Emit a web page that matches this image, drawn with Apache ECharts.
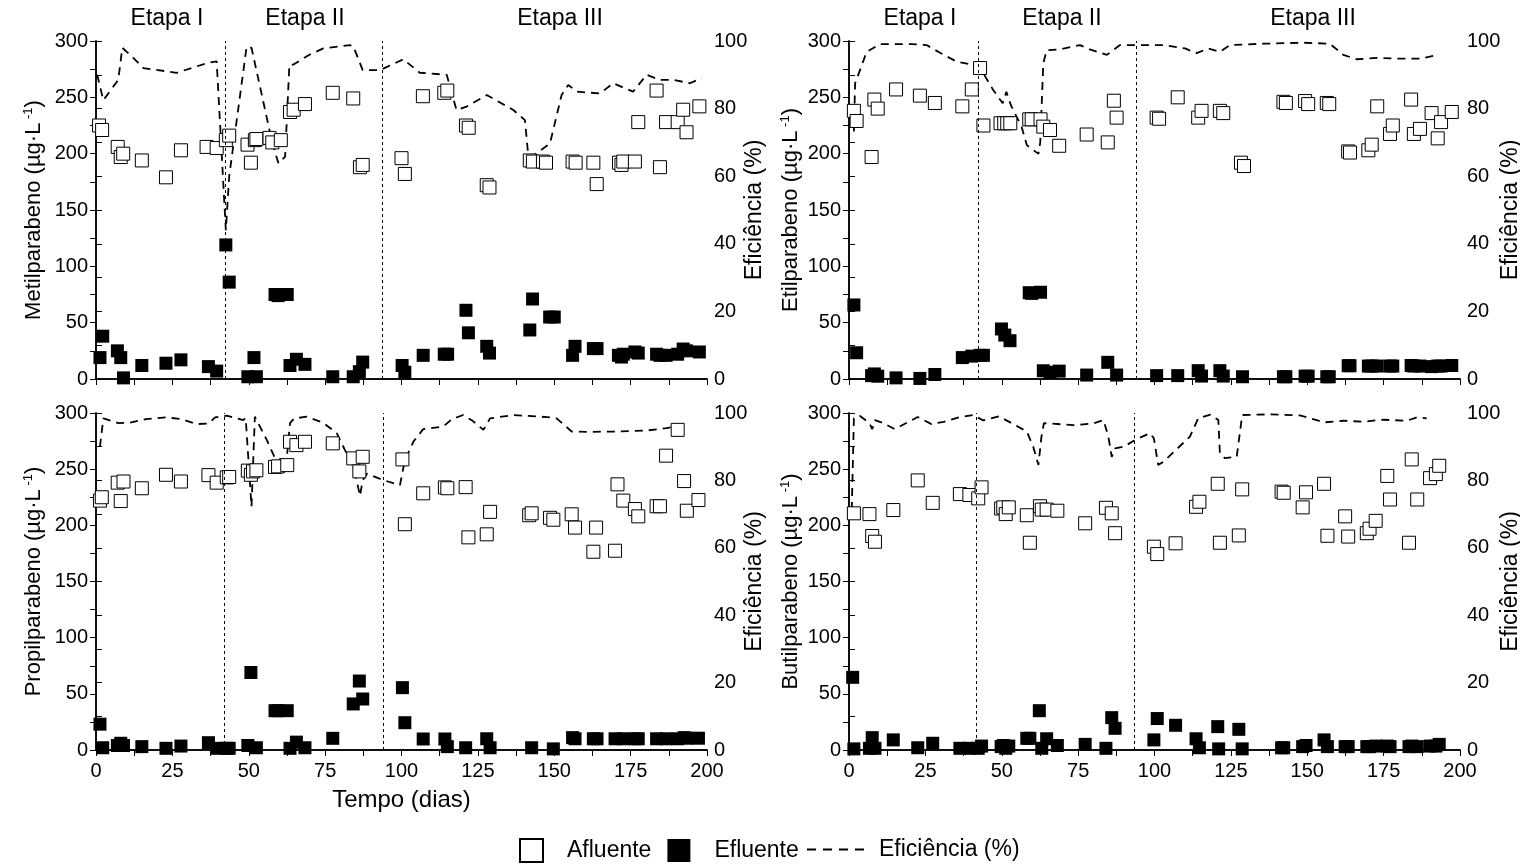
<!DOCTYPE html>
<html>
<head>
<meta charset="utf-8">
<script src="https://cdn.jsdelivr.net/npm/echarts@6/dist/echarts.min.js"></script>
<style>
html,body{margin:0;padding:0;background:#fff;}
#main{width:1520px;height:864px;}
</style>
</head>
<body>
<div id="main"></div>
<script>
// dados: [dia, valor]
var metilAfluente = [[1,225],[2,221],[7.1,206],[8.1,197],[8.9,200],[15,194],[22.9,179],[27.8,203],[36.2,206],[39.5,205],[42.5,212],[43.6,216],[49.6,208],[50.7,192],[52,212],[52.5,213],[56.8,214],[57.7,210],[60.5,212],[63.5,237],[64.7,239],[68.4,244],[77.5,254],[84.2,249],[86.4,188],[87.3,190],[100,196],[101.1,182],[107,251],[114,254],[115,256],[121.1,225],[122,223],[127.9,172],[128.8,170],[142,194],[143,193],[146.3,193],[147.3,192],[156,193],[157,192],[162.8,192],[163.9,173],[171.2,192],[172,190],[172.6,193],[176.4,193],[177.5,228],[183.5,256],[184.6,188],[186.6,228],[190.4,228],[192.2,239],[193.3,219],[197.5,242]];
var metilEfluente = [[1.3,19],[2.2,38],[7,25],[8.1,19],[9,1],[15,12],[22.9,14],[27.8,17],[36.8,11],[39.5,7],[42.5,119],[43.6,86],[49.7,2],[51.7,19],[52.5,2],[58.6,75],[59.6,74],[62.6,75],[63.5,12],[65.6,17.5],[68.4,13],[77.5,2],[84.2,2],[86.2,6.5],[87.3,15],[100.2,12],[101.1,6],[107.1,21],[114,22],[115.1,22],[121.1,61],[121.9,41],[127.9,29],[128.8,23],[142,43.5],[142.9,71],[148.5,55],[150,55],[156,21],[156.8,29],[162.8,27],[164,27],[171,21],[172,19.5],[172.6,22],[176.4,24],[177.5,23],[183.5,22],[184.6,21],[186.6,21],[190.4,22],[192.2,26.6],[193.3,25],[197.5,24]];
var metilEficiencia = [[0.4,90],[2.4,82.5],[7.3,88.5],[8.6,98],[12.2,95],[15.5,92],[26.4,90.6],[36.8,93.6],[39.5,94],[42.5,44],[43.6,60],[49.3,98.3],[50.9,98],[57.5,70.7],[59.7,63.8],[61.9,65.8],[63.3,93],[64.5,93],[70,96],[74.4,97.8],[83.1,98.8],[84.2,98.5],[87.3,91.4],[93,91.4],[100.6,94.6],[106,90.6],[114.8,90],[118,79.6],[121.3,80.6],[127.9,84],[136.6,79.6],[140.4,76.6],[141.5,66],[143,66],[148.6,69.7],[152.4,84],[154.6,87],[157.4,85],[165,84.5],[169.3,87.5],[175.8,85],[180.2,90],[184.6,88.5],[189,88.5],[194.4,87.5],[198.2,89]];

var etilAfluente = [[1.6,238],[2.5,229],[7.4,197],[8.3,248],[9.4,240],[15.4,257],[23.2,251.5],[28.1,245],[37.1,242],[40.2,257],[42.9,276],[44,225],[49.6,227],[50.8,227],[51.8,227],[52.8,227],[59,230.5],[59.8,230.5],[62.7,230.5],[63.6,224],[65.8,221],[68.8,207],[77.8,217],[84.7,210],[86.7,247],[87.6,232],[100.7,232],[101.5,231],[107.6,250],[114.3,232],[115.4,238],[121.4,238],[122.5,236],[128.3,192],[129.3,189],[142.2,246],[143,245],[149.3,246.7],[150.3,244],[156.4,245],[157.2,244],[163.4,202],[164,201],[170,203],[171.1,208],[172.9,242],[177.1,217.5],[178,225],[184,248],[184.9,217.5],[186.9,222],[190.7,236],[192.7,213.6],[193.8,228],[197.3,237]];
var etilEfluente = [[1.6,65.7],[2.5,23.3],[7.4,3],[8.3,4.5],[9.4,2.5],[15.4,1],[23.2,0.5],[28.1,4],[37.1,19],[40.2,20.3],[42.9,21],[44,21],[49.9,44.4],[51,39],[52.7,34],[59,76.6],[59.8,76],[62.7,77],[63.6,7.3],[65.8,6],[68.8,7],[77.8,3.5],[84.7,14.8],[87.6,3.5],[100.7,3],[107.6,3],[114.3,7.4],[115.4,2.6],[121.4,7.4],[122.5,2.6],[128.8,2],[142.2,2],[143,2],[149.3,2.5],[150.3,2.5],[156.4,2],[157.2,2],[163.4,11.8],[164,11.8],[170,11.5],[171.1,11.5],[172.9,11.5],[177.1,11.5],[178,11.5],[184,12],[184.9,11.5],[186.9,11.5],[190.7,11],[192.7,11.5],[193.8,11.5],[197.3,12]];
var etilEficiencia = [[1.6,73.2],[2,87.5],[5.8,96.8],[10.2,99.1],[20.5,99.1],[25.4,98.8],[29.8,96.5],[35.2,93.9],[40.7,92.9],[44,90.4],[47.2,85.5],[50.3,81.6],[51.5,85],[53,81],[56.5,74.6],[58.2,69.2],[62,66.6],[62.6,70],[63.6,93.4],[64.7,97.3],[68.8,97.5],[75.6,98.8],[78.8,97.5],[84.4,95.9],[88.7,98.8],[94.1,98.8],[102.9,98.8],[110,97.8],[113.8,96.4],[117.6,97.8],[121.4,96.8],[124.7,98.8],[135.6,99.2],[148.7,99.5],[157.4,99.2],[161.8,95.9],[166.2,94.6],[172.8,95],[179.3,94.8],[187,94.8],[192.9,95.9]];

var propilAfluente = [[1.3,222],[1.9,225],[7.1,238],[8.1,221.6],[9,239],[15,233],[22.9,245],[27.8,239],[36.8,244.7],[39.5,238],[42.8,242.7],[43.6,243],[49.7,248.7],[50.7,245],[51.4,248],[52.5,249],[58.6,252],[59.6,252.5],[62.6,253.6],[63.5,274.4],[65.6,271.4],[68.4,274.4],[77.5,273],[84.2,259.6],[86.2,248],[87.3,261],[100.3,258.7],[101.1,201],[107.1,228.5],[114.2,233.8],[115,233],[121,234],[121.9,189.3],[127.9,192],[129,212],[141.8,209],[142.6,210.7],[148.6,206.7],[149.7,205],[155.7,209.8],[156.8,198],[162.8,176.5],[163.7,198],[169.9,177.4],[170.7,236.5],[172.6,222],[176.4,214.5],[177.5,208],[183.5,217],[184.6,217],[186.6,262],[190.4,285],[192.5,239.4],[193.4,213],[197.2,222.5]];
var propilEfluente = [[1.3,23],[2.2,2],[7,4],[8.1,6],[9,4],[15,3],[22.9,1.5],[27.8,3.5],[36.8,6.5],[39.5,1.5],[42.8,1.5],[43.6,1.5],[49.7,4],[50.7,69],[52.5,2],[58.6,35],[59.6,35],[62.6,35],[63.5,1.5],[65.6,7],[68.4,2],[77.5,10.4],[84.2,41],[86.2,61.4],[87.3,45.4],[100.3,55.5],[101.1,24.3],[107.1,9.8],[114.2,9.8],[115,3],[121,2],[127.9,10],[129,2],[142.6,2],[149.7,1],[156,11],[156.8,10],[162.8,10],[164,10],[169.9,10],[172.6,10],[176.4,10],[177.5,10],[183.5,10],[186.6,10],[190.4,10],[192.5,11],[193.4,10.5],[197.2,10.5]];
var propilEficiencia = [[1.3,90],[2.4,98.4],[3,98.8],[7.3,97],[11.1,97.1],[16.4,98.2],[23,98.7],[27.8,98.2],[32.9,96.7],[36.8,96.9],[39,98.7],[42.8,99.2],[48.2,97.9],[49,98.5],[50.9,72.2],[52,98.9],[55.9,92],[58.6,86.6],[62.4,86],[63.5,97],[64.9,98.4],[69,98.9],[74.4,97.1],[78.8,94],[81.5,89],[83.7,85],[85.3,80.1],[86.4,75.4],[87.3,80],[88.7,82],[94,80.1],[99.5,78.6],[101.1,86],[103.9,91.5],[107.1,95.2],[113.7,96],[116.4,98.1],[120.2,99.4],[123.4,97.6],[126.8,95],[129,98.4],[136.6,99.4],[147.5,98.8],[150.8,98.4],[155.7,94.5],[161.7,94.4],[169.3,94.5],[180.2,94.8],[186.7,95.5],[191,96.2],[192.7,95]];

var butilAfluente = [[1.6,210.7],[6.7,210],[7.6,190.5],[8.5,185.4],[14.5,213.6],[22.5,240],[27.4,220],[36.3,227.8],[39.4,227],[42.3,224],[43.4,233.8],[49.8,215],[50.5,216],[51.3,210],[52.3,216],[58.2,209],[59.2,184.5],[62.5,217],[63.1,214],[64.7,214],[68.2,213],[77.3,201.8],[84.1,215.6],[86,210.7],[87.1,193],[99.8,181],[100.9,174.4],[106.9,184],[113.6,216.5],[114.7,221],[120.7,237],[121.4,184.5],[127.6,191],[128.7,232],[141.6,230],[142.3,229],[148.5,216],[149.6,229.4],[155.5,237],[156.6,190.7],[162.4,208],[163.4,190],[169.5,193],[170.4,197],[172.4,204],[176.2,244],[177.1,223],[183.3,184.5],[184.2,258.7],[186,223],[190.2,242],[192.1,245.6],[193.2,253]];
var butilEfluente = [[1.2,64.7],[1.6,1],[6.7,1.5],[7.6,11],[8.5,1.5],[14.5,9],[22.5,2],[27.4,6],[36.3,1.5],[39.4,1.5],[42.3,1.5],[43.4,3.5],[49.8,3],[50.5,4],[51.3,1.5],[52.3,3.5],[58.2,10.4],[59.2,10.4],[62.3,35],[63.1,1.5],[64.7,10],[68.2,4],[77.3,5],[84.1,1.5],[86,28.8],[87.1,19.3],[99.8,9],[100.9,28],[106.9,22],[113.6,10],[114.7,2],[120.7,20.8],[121,1],[127.6,18.4],[128.7,1],[141.6,2],[142.3,2],[148.5,3],[149.6,4],[155.5,9],[156.6,3],[162.4,3],[163.4,3],[169.5,3],[170.4,3],[172.4,3.5],[176.2,3.5],[177.1,3],[183.3,3],[184.2,3.5],[186,3],[190.2,3.5],[192.1,3.5],[193.2,5]];
var butilEficiencia = [[0.9,71.2],[1.6,98.4],[3.5,99.2],[6.7,97],[7.6,95.2],[8.5,97.9],[11.2,97],[15,95.2],[22.5,98.8],[27,96.7],[31,97.4],[36.3,98.8],[40.6,99.4],[43.9,97.8],[49.1,99],[53.2,97],[58.2,94.5],[60.3,90],[62,84.6],[63,93],[63.8,97],[73.4,96.4],[80,96.9],[83.3,97.9],[84.9,93],[86,87],[87.1,89.5],[90,90],[93.6,92],[98.5,94],[99.8,92.5],[101.2,84.6],[102.9,85.5],[111.6,93],[114.3,98.4],[118.3,99.5],[120.9,97.9],[121.4,88],[123,86.6],[126.9,87],[128,94.5],[128.7,99.4],[138,99.6],[147.6,99.3],[153.1,97.9],[155.3,97.2],[161.8,97.7],[168.4,97.4],[172.8,97.9],[175,98],[182.6,97.7],[185.9,98.7],[189.1,98.4]];

// inicio das etapas II e III em cada painel
var metilEtapas = [42.4, 93.8];
var etilEtapas = [42.2, 94];
var propilEtapas = [42, 94];
var butilEtapas = [41.5, 93.3];

var compostos = ['Metilparabeno', 'Etilparabeno', 'Propilparabeno', 'Butilparabeno'];
var etapaNomes = ['Etapa I', 'Etapa II', 'Etapa III'];

var paineis = [
	{afl: metilAfluente, efl: metilEfluente, efi: metilEficiencia, etapas: metilEtapas},
	{afl: etilAfluente, efl: etilEfluente, efi: etilEficiencia, etapas: etilEtapas},
	{afl: propilAfluente, efl: propilEfluente, efi: propilEficiencia, etapas: propilEtapas},
	{afl: butilAfluente, efl: butilEfluente, efi: butilEficiencia, etapas: butilEtapas}
];

var FONT = '"Liberation Sans", Arial, sans-serif';
// posições fixas dos quatro painéis (sem ajuste automático)
var grids = [
	{left: 96, top: 41, width: 611, height: 338, outerBoundsMode: 'none'},
	{left: 849, top: 41, width: 611, height: 338, outerBoundsMode: 'none'},
	{left: 96, top: 413, width: 611, height: 337, outerBoundsMode: 'none'},
	{left: 849, top: 413, width: 611, height: 337, outerBoundsMode: 'none'}
];

var linha = {show: true, lineStyle: {color: '#000', width: 1.5}};
var marca = {show: true, length: 6, lineStyle: {color: '#000'}};
var marcaMenor = {show: true, splitNumber: 2, length: 6, lineStyle: {color: '#000'}};
var xAxis = [], yAxis = [], series = [];

for (var i = 0; i < 4; i++) {
	var baixo = i >= 2;
	var direita = i % 2 == 1;
	// eixo x inferior
	xAxis.push({
		gridIndex: i, type: 'value', min: 0, max: 200, interval: 25,
		axisLine: linha, axisTick: marca, minorTick: marcaMenor,
		splitLine: {show: false},
		axisLabel: {show: baixo, color: '#000', fontSize: 20, fontFamily: FONT, margin: 11},
		name: i == 2 ? 'Tempo (dias)' : '',
		nameLocation: 'middle', nameGap: 38,
		nameTextStyle: {color: '#000', fontSize: 24, fontFamily: FONT}
	});
	// eixo x superior, só marcas para dentro
	xAxis.push({
		gridIndex: i, type: 'value', position: 'top', min: 0, max: 200, interval: 25,
		axisLine: linha,
		axisTick: {show: true, inside: true, length: 6, lineStyle: {color: '#000'}},
		minorTick: marcaMenor,
		splitLine: {show: false},
		axisLabel: {show: false}
	});
	yAxis.push({
		gridIndex: i, type: 'value', min: 0, max: 300, interval: 50,
		axisLine: linha, axisTick: marca, minorTick: marcaMenor,
		splitLine: {show: false},
		axisLabel: {color: '#000', fontSize: 20, fontFamily: FONT, margin: 8},
		name: '{a|' + compostos[i] + ' (µg·L}{s| -1}{a|)}',
		nameLocation: 'middle', nameRotate: 90, nameGap: direita ? 47 : 51,
		nameMoveOverlap: false,
		nameTextStyle: {
			rich: {
				a: {fontSize: 22, fontFamily: FONT, color: '#000', lineHeight: 23, verticalAlign: 'bottom'},
				s: {fontSize: 13, fontFamily: FONT, color: '#000', lineHeight: 23, verticalAlign: 'top'}
			}
		}
	});
	yAxis.push({
		gridIndex: i, type: 'value', position: 'right', min: 0, max: 100, interval: 20,
		axisLine: linha, axisTick: marca, minorTick: marcaMenor,
		splitLine: {show: false},
		axisLabel: {color: '#000', fontSize: 20, fontFamily: FONT, margin: 7},
		name: 'Eficiência (%)',
		nameLocation: 'middle', nameRotate: 90, nameGap: direita ? 39 : 36,
		nameMoveOverlap: false,
		nameTextStyle: {color: '#000', fontSize: 23, fontFamily: FONT}
	});

	var p = paineis[i];
	series.push({
		name: 'Eficiência (%)', type: 'line',
		xAxisIndex: 2 * i, yAxisIndex: 2 * i + 1,
		data: p.efi, symbol: 'none', z: 2,
		itemStyle: {color: '#000'},
		lineStyle: {color: '#000', width: 1.8, type: [8, 6]},
		markLine: {
			silent: true, symbol: 'none', label: {show: false},
			lineStyle: {color: '#000', width: 1, type: [3, 3]},
			data: [{xAxis: p.etapas[0]}, {xAxis: p.etapas[1]}]
		}
	});
	series.push({
		name: 'Afluente', type: 'scatter',
		xAxisIndex: 2 * i, yAxisIndex: 2 * i,
		data: p.afl, symbol: 'rect', symbolSize: 13, z: 3,
		itemStyle: {color: '#fff', borderColor: '#000', borderWidth: 1, opacity: 1}
	});
	series.push({
		name: 'Efluente', type: 'scatter',
		xAxisIndex: 2 * i, yAxisIndex: 2 * i,
		data: p.efl, symbol: 'rect', symbolSize: 13, z: 4,
		itemStyle: {color: '#000', opacity: 1}
	});
}

// rótulos das etapas acima dos painéis superiores
var graphic = [];
var etapaX = [[167, 305, 560], [920, 1062, 1313]];
for (var g = 0; g < 2; g++) {
	for (var k = 0; k < 3; k++) {
		graphic.push({
			type: 'text', x: etapaX[g][k], y: 19,
			style: {text: etapaNomes[k], fill: '#000', font: '23px ' + FONT, align: 'center', verticalAlign: 'middle'}
		});
	}
}

var option = {
	backgroundColor: '#fff',
	animation: false,
	grid: grids,
	xAxis: xAxis,
	yAxis: yAxis,
	series: series,
	graphic: graphic,
	legend: [
		{
			data: ['Afluente', 'Efluente'],
			left: 514, top: 833, itemWidth: 23, itemHeight: 23, itemGap: 16,
			textStyle: {color: '#000', fontSize: 23, fontFamily: FONT, padding: [0, 0, 0, 19]}
		},
		{
			data: [{
				name: 'Eficiência (%)',
				icon: 'path://M0,0h9v2h-9zM16,0h9v2h-9zM32,0h9v2h-9zM48,0h9v2h-9z'
			}],
			left: 802, top: 833, itemWidth: 57, itemHeight: 2,
			itemStyle: {color: '#000'},
			textStyle: {color: '#000', fontSize: 23, fontFamily: FONT, padding: [0, 0, 0, 10]}
		}
	]
};

var myChart = echarts.init(document.getElementById('main'));
myChart.setOption(option);
</script>
</body>
</html>
